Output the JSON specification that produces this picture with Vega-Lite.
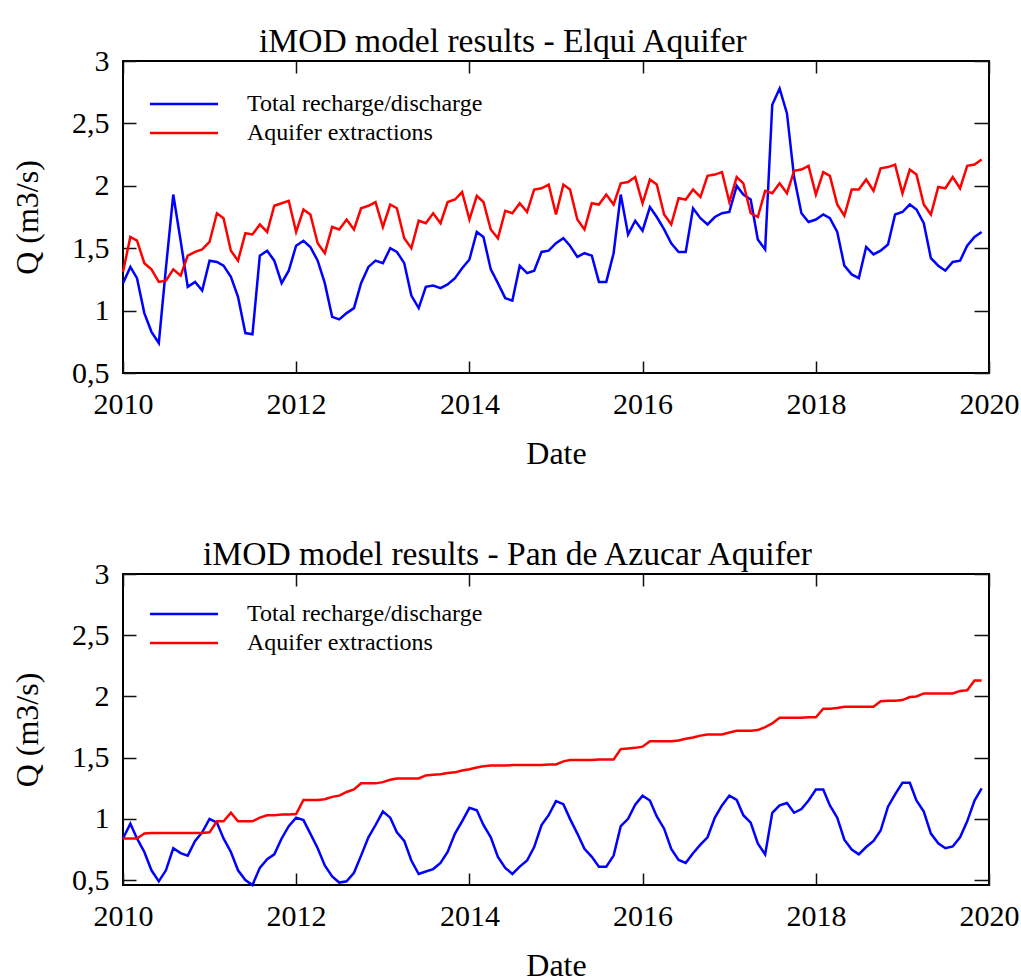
{
  "$schema": "https://vega.github.io/schema/vega-lite/v6.json",
  "background": "white",
  "padding": {"left": 10, "top": 24, "right": 0, "bottom": 0},
  "config": {
    "font": "Liberation Serif",
    "view": {"stroke": "black", "strokeWidth": 2},
    "axis": {"domain": false, "ticks": false, "grid": true, "gridColor": "#111111", "gridOpacity": 1, "gridWidth": 1.5, "labelColor": "black", "titleColor": "black", "labelFont": "Liberation Serif", "titleFont": "Liberation Serif", "titleFontWeight": "normal", "labelFontSize": 30, "titleFontSize": 32, "labelFlush": false, "labelOverlap": false, "labelBound": false},
    "title": {"font": "Liberation Serif", "fontSize": 33.6, "fontWeight": "normal", "color": "black"},
    "legend": {"orient": "none", "title": null, "symbolType": "M-3,0L3,0", "symbolSize": 515, "symbolStrokeWidth": 2.5, "labelFontSize": 24, "labelFont": "Liberation Serif", "labelColor": "black", "labelOffset": 50, "rowPadding": 4, "padding": 0, "labelLimit": 0}
  },
  "datasets": {
    "elqui": [
      {"date":"2010-01-01","recharge":1.22,"extractions":1.31},
      {"date":"2010-02-01","recharge":1.35,"extractions":1.59},
      {"date":"2010-03-01","recharge":1.26,"extractions":1.56},
      {"date":"2010-04-01","recharge":0.98,"extractions":1.38},
      {"date":"2010-05-01","recharge":0.83,"extractions":1.33},
      {"date":"2010-06-01","recharge":0.74,"extractions":1.23},
      {"date":"2010-07-01","recharge":1.34,"extractions":1.24},
      {"date":"2010-08-01","recharge":1.93,"extractions":1.33},
      {"date":"2010-09-01","recharge":1.56,"extractions":1.28},
      {"date":"2010-10-01","recharge":1.19,"extractions":1.44},
      {"date":"2010-11-01","recharge":1.23,"extractions":1.47},
      {"date":"2010-12-01","recharge":1.16,"extractions":1.49},
      {"date":"2011-01-01","recharge":1.40,"extractions":1.55},
      {"date":"2011-02-01","recharge":1.39,"extractions":1.78},
      {"date":"2011-03-01","recharge":1.36,"extractions":1.74},
      {"date":"2011-04-01","recharge":1.27,"extractions":1.48},
      {"date":"2011-05-01","recharge":1.11,"extractions":1.40},
      {"date":"2011-06-01","recharge":0.82,"extractions":1.62},
      {"date":"2011-07-01","recharge":0.81,"extractions":1.61},
      {"date":"2011-08-01","recharge":1.44,"extractions":1.69},
      {"date":"2011-09-01","recharge":1.48,"extractions":1.63},
      {"date":"2011-10-01","recharge":1.40,"extractions":1.84},
      {"date":"2011-11-01","recharge":1.22,"extractions":1.86},
      {"date":"2011-12-01","recharge":1.32,"extractions":1.88},
      {"date":"2012-01-01","recharge":1.52,"extractions":1.63},
      {"date":"2012-02-01","recharge":1.56,"extractions":1.81},
      {"date":"2012-03-01","recharge":1.51,"extractions":1.77},
      {"date":"2012-04-01","recharge":1.40,"extractions":1.54},
      {"date":"2012-05-01","recharge":1.22,"extractions":1.46},
      {"date":"2012-06-01","recharge":0.95,"extractions":1.67},
      {"date":"2012-07-01","recharge":0.93,"extractions":1.65},
      {"date":"2012-08-01","recharge":0.98,"extractions":1.73},
      {"date":"2012-09-01","recharge":1.02,"extractions":1.65},
      {"date":"2012-10-01","recharge":1.22,"extractions":1.82},
      {"date":"2012-11-01","recharge":1.35,"extractions":1.84},
      {"date":"2012-12-01","recharge":1.40,"extractions":1.87},
      {"date":"2013-01-01","recharge":1.38,"extractions":1.67},
      {"date":"2013-02-01","recharge":1.50,"extractions":1.85},
      {"date":"2013-03-01","recharge":1.47,"extractions":1.82},
      {"date":"2013-04-01","recharge":1.38,"extractions":1.58},
      {"date":"2013-05-01","recharge":1.12,"extractions":1.50},
      {"date":"2013-06-01","recharge":1.02,"extractions":1.72},
      {"date":"2013-07-01","recharge":1.19,"extractions":1.70},
      {"date":"2013-08-01","recharge":1.20,"extractions":1.78},
      {"date":"2013-09-01","recharge":1.18,"extractions":1.70},
      {"date":"2013-10-01","recharge":1.21,"extractions":1.87},
      {"date":"2013-11-01","recharge":1.26,"extractions":1.89},
      {"date":"2013-12-01","recharge":1.34,"extractions":1.95},
      {"date":"2014-01-01","recharge":1.41,"extractions":1.73},
      {"date":"2014-02-01","recharge":1.63,"extractions":1.92},
      {"date":"2014-03-01","recharge":1.59,"extractions":1.87},
      {"date":"2014-04-01","recharge":1.33,"extractions":1.65},
      {"date":"2014-05-01","recharge":1.22,"extractions":1.58},
      {"date":"2014-06-01","recharge":1.10,"extractions":1.80},
      {"date":"2014-07-01","recharge":1.08,"extractions":1.78},
      {"date":"2014-08-01","recharge":1.36,"extractions":1.86},
      {"date":"2014-09-01","recharge":1.30,"extractions":1.79},
      {"date":"2014-10-01","recharge":1.32,"extractions":1.97},
      {"date":"2014-11-01","recharge":1.47,"extractions":1.98},
      {"date":"2014-12-01","recharge":1.48,"extractions":2.01},
      {"date":"2015-01-01","recharge":1.54,"extractions":1.77},
      {"date":"2015-02-01","recharge":1.58,"extractions":2.01},
      {"date":"2015-03-01","recharge":1.52,"extractions":1.97},
      {"date":"2015-04-01","recharge":1.43,"extractions":1.73},
      {"date":"2015-05-01","recharge":1.46,"extractions":1.65},
      {"date":"2015-06-01","recharge":1.44,"extractions":1.86},
      {"date":"2015-07-01","recharge":1.23,"extractions":1.85},
      {"date":"2015-08-01","recharge":1.23,"extractions":1.93},
      {"date":"2015-09-01","recharge":1.46,"extractions":1.85},
      {"date":"2015-10-01","recharge":1.93,"extractions":2.02},
      {"date":"2015-11-01","recharge":1.61,"extractions":2.03},
      {"date":"2015-12-01","recharge":1.72,"extractions":2.07},
      {"date":"2016-01-01","recharge":1.64,"extractions":1.86},
      {"date":"2016-02-01","recharge":1.83,"extractions":2.05},
      {"date":"2016-03-01","recharge":1.75,"extractions":2.01},
      {"date":"2016-04-01","recharge":1.65,"extractions":1.77},
      {"date":"2016-05-01","recharge":1.54,"extractions":1.69},
      {"date":"2016-06-01","recharge":1.47,"extractions":1.90},
      {"date":"2016-07-01","recharge":1.47,"extractions":1.89},
      {"date":"2016-08-01","recharge":1.82,"extractions":1.97},
      {"date":"2016-09-01","recharge":1.74,"extractions":1.91},
      {"date":"2016-10-01","recharge":1.69,"extractions":2.08},
      {"date":"2016-11-01","recharge":1.75,"extractions":2.09},
      {"date":"2016-12-01","recharge":1.78,"extractions":2.11},
      {"date":"2017-01-01","recharge":1.79,"extractions":1.87},
      {"date":"2017-02-01","recharge":2.00,"extractions":2.07},
      {"date":"2017-03-01","recharge":1.93,"extractions":2.02},
      {"date":"2017-04-01","recharge":1.89,"extractions":1.78},
      {"date":"2017-05-01","recharge":1.57,"extractions":1.75},
      {"date":"2017-06-01","recharge":1.49,"extractions":1.96},
      {"date":"2017-07-01","recharge":2.65,"extractions":1.94},
      {"date":"2017-08-01","recharge":2.78,"extractions":2.02},
      {"date":"2017-09-01","recharge":2.58,"extractions":1.94},
      {"date":"2017-10-01","recharge":2.07,"extractions":2.12},
      {"date":"2017-11-01","recharge":1.78,"extractions":2.13},
      {"date":"2017-12-01","recharge":1.71,"extractions":2.16},
      {"date":"2018-01-01","recharge":1.73,"extractions":1.93},
      {"date":"2018-02-01","recharge":1.77,"extractions":2.11},
      {"date":"2018-03-01","recharge":1.74,"extractions":2.08},
      {"date":"2018-04-01","recharge":1.63,"extractions":1.85},
      {"date":"2018-05-01","recharge":1.36,"extractions":1.76},
      {"date":"2018-06-01","recharge":1.29,"extractions":1.97},
      {"date":"2018-07-01","recharge":1.26,"extractions":1.97},
      {"date":"2018-08-01","recharge":1.51,"extractions":2.05},
      {"date":"2018-09-01","recharge":1.45,"extractions":1.96},
      {"date":"2018-10-01","recharge":1.48,"extractions":2.14},
      {"date":"2018-11-01","recharge":1.53,"extractions":2.15},
      {"date":"2018-12-01","recharge":1.77,"extractions":2.17},
      {"date":"2019-01-01","recharge":1.79,"extractions":1.94},
      {"date":"2019-02-01","recharge":1.85,"extractions":2.13},
      {"date":"2019-03-01","recharge":1.81,"extractions":2.09},
      {"date":"2019-04-01","recharge":1.70,"extractions":1.85},
      {"date":"2019-05-01","recharge":1.42,"extractions":1.77},
      {"date":"2019-06-01","recharge":1.36,"extractions":1.99},
      {"date":"2019-07-01","recharge":1.32,"extractions":1.98},
      {"date":"2019-08-01","recharge":1.39,"extractions":2.07},
      {"date":"2019-09-01","recharge":1.40,"extractions":1.98},
      {"date":"2019-10-01","recharge":1.52,"extractions":2.16},
      {"date":"2019-11-01","recharge":1.59,"extractions":2.17},
      {"date":"2019-12-01","recharge":1.63,"extractions":2.21}
    ],
    "pan": [
      {"date":"2010-01-01","recharge":0.84,"extractions":0.84},
      {"date":"2010-02-01","recharge":0.96,"extractions":0.84},
      {"date":"2010-03-01","recharge":0.84,"extractions":0.84},
      {"date":"2010-04-01","recharge":0.73,"extractions":0.88},
      {"date":"2010-05-01","recharge":0.58,"extractions":0.885},
      {"date":"2010-06-01","recharge":0.49,"extractions":0.885},
      {"date":"2010-07-01","recharge":0.58,"extractions":0.885},
      {"date":"2010-08-01","recharge":0.76,"extractions":0.885},
      {"date":"2010-09-01","recharge":0.72,"extractions":0.885},
      {"date":"2010-10-01","recharge":0.70,"extractions":0.885},
      {"date":"2010-11-01","recharge":0.82,"extractions":0.885},
      {"date":"2010-12-01","recharge":0.89,"extractions":0.885},
      {"date":"2011-01-01","recharge":1.00,"extractions":0.89},
      {"date":"2011-02-01","recharge":0.97,"extractions":0.98},
      {"date":"2011-03-01","recharge":0.84,"extractions":0.98},
      {"date":"2011-04-01","recharge":0.73,"extractions":1.05},
      {"date":"2011-05-01","recharge":0.58,"extractions":0.98},
      {"date":"2011-06-01","recharge":0.50,"extractions":0.98},
      {"date":"2011-07-01","recharge":0.46,"extractions":0.98},
      {"date":"2011-08-01","recharge":0.60,"extractions":1.01},
      {"date":"2011-09-01","recharge":0.67,"extractions":1.03},
      {"date":"2011-10-01","recharge":0.71,"extractions":1.03},
      {"date":"2011-11-01","recharge":0.84,"extractions":1.035},
      {"date":"2011-12-01","recharge":0.94,"extractions":1.035},
      {"date":"2012-01-01","recharge":1.01,"extractions":1.04},
      {"date":"2012-02-01","recharge":0.99,"extractions":1.155},
      {"date":"2012-03-01","recharge":0.88,"extractions":1.155},
      {"date":"2012-04-01","recharge":0.76,"extractions":1.155},
      {"date":"2012-05-01","recharge":0.62,"extractions":1.16},
      {"date":"2012-06-01","recharge":0.53,"extractions":1.18},
      {"date":"2012-07-01","recharge":0.48,"extractions":1.19},
      {"date":"2012-08-01","recharge":0.49,"extractions":1.22},
      {"date":"2012-09-01","recharge":0.56,"extractions":1.24},
      {"date":"2012-10-01","recharge":0.70,"extractions":1.29},
      {"date":"2012-11-01","recharge":0.85,"extractions":1.29},
      {"date":"2012-12-01","recharge":0.95,"extractions":1.29},
      {"date":"2013-01-01","recharge":1.06,"extractions":1.30},
      {"date":"2013-02-01","recharge":1.01,"extractions":1.32},
      {"date":"2013-03-01","recharge":0.89,"extractions":1.33},
      {"date":"2013-04-01","recharge":0.82,"extractions":1.33},
      {"date":"2013-05-01","recharge":0.66,"extractions":1.33},
      {"date":"2013-06-01","recharge":0.55,"extractions":1.33},
      {"date":"2013-07-01","recharge":0.57,"extractions":1.355},
      {"date":"2013-08-01","recharge":0.59,"extractions":1.36},
      {"date":"2013-09-01","recharge":0.64,"extractions":1.365},
      {"date":"2013-10-01","recharge":0.73,"extractions":1.375},
      {"date":"2013-11-01","recharge":0.88,"extractions":1.38},
      {"date":"2013-12-01","recharge":0.98,"extractions":1.395},
      {"date":"2014-01-01","recharge":1.09,"extractions":1.405},
      {"date":"2014-02-01","recharge":1.07,"extractions":1.42},
      {"date":"2014-03-01","recharge":0.95,"extractions":1.43},
      {"date":"2014-04-01","recharge":0.85,"extractions":1.435},
      {"date":"2014-05-01","recharge":0.69,"extractions":1.435},
      {"date":"2014-06-01","recharge":0.60,"extractions":1.435},
      {"date":"2014-07-01","recharge":0.55,"extractions":1.44},
      {"date":"2014-08-01","recharge":0.61,"extractions":1.44},
      {"date":"2014-09-01","recharge":0.66,"extractions":1.44},
      {"date":"2014-10-01","recharge":0.77,"extractions":1.44},
      {"date":"2014-11-01","recharge":0.95,"extractions":1.44},
      {"date":"2014-12-01","recharge":1.03,"extractions":1.445},
      {"date":"2015-01-01","recharge":1.145,"extractions":1.445},
      {"date":"2015-02-01","recharge":1.12,"extractions":1.47},
      {"date":"2015-03-01","recharge":1.00,"extractions":1.48},
      {"date":"2015-04-01","recharge":0.88,"extractions":1.48},
      {"date":"2015-05-01","recharge":0.755,"extractions":1.48},
      {"date":"2015-06-01","recharge":0.69,"extractions":1.48},
      {"date":"2015-07-01","recharge":0.61,"extractions":1.485},
      {"date":"2015-08-01","recharge":0.61,"extractions":1.485},
      {"date":"2015-09-01","recharge":0.70,"extractions":1.485},
      {"date":"2015-10-01","recharge":0.94,"extractions":1.57},
      {"date":"2015-11-01","recharge":1.00,"extractions":1.575},
      {"date":"2015-12-01","recharge":1.115,"extractions":1.58},
      {"date":"2016-01-01","recharge":1.19,"extractions":1.59},
      {"date":"2016-02-01","recharge":1.15,"extractions":1.635},
      {"date":"2016-03-01","recharge":1.02,"extractions":1.635},
      {"date":"2016-04-01","recharge":0.92,"extractions":1.635},
      {"date":"2016-05-01","recharge":0.755,"extractions":1.635},
      {"date":"2016-06-01","recharge":0.665,"extractions":1.64},
      {"date":"2016-07-01","recharge":0.64,"extractions":1.655},
      {"date":"2016-08-01","recharge":0.72,"extractions":1.665},
      {"date":"2016-09-01","recharge":0.79,"extractions":1.68},
      {"date":"2016-10-01","recharge":0.85,"extractions":1.69},
      {"date":"2016-11-01","recharge":1.01,"extractions":1.69},
      {"date":"2016-12-01","recharge":1.11,"extractions":1.69},
      {"date":"2017-01-01","recharge":1.19,"extractions":1.705},
      {"date":"2017-02-01","recharge":1.155,"extractions":1.72},
      {"date":"2017-03-01","recharge":1.03,"extractions":1.72},
      {"date":"2017-04-01","recharge":0.97,"extractions":1.72},
      {"date":"2017-05-01","recharge":0.80,"extractions":1.725},
      {"date":"2017-06-01","recharge":0.71,"extractions":1.75},
      {"date":"2017-07-01","recharge":1.05,"extractions":1.78},
      {"date":"2017-08-01","recharge":1.11,"extractions":1.825},
      {"date":"2017-09-01","recharge":1.13,"extractions":1.825},
      {"date":"2017-10-01","recharge":1.05,"extractions":1.825},
      {"date":"2017-11-01","recharge":1.08,"extractions":1.825},
      {"date":"2017-12-01","recharge":1.15,"extractions":1.83},
      {"date":"2018-01-01","recharge":1.24,"extractions":1.83},
      {"date":"2018-02-01","recharge":1.24,"extractions":1.90},
      {"date":"2018-03-01","recharge":1.11,"extractions":1.90},
      {"date":"2018-04-01","recharge":1.01,"extractions":1.905},
      {"date":"2018-05-01","recharge":0.83,"extractions":1.915},
      {"date":"2018-06-01","recharge":0.75,"extractions":1.915},
      {"date":"2018-07-01","recharge":0.71,"extractions":1.915},
      {"date":"2018-08-01","recharge":0.77,"extractions":1.915},
      {"date":"2018-09-01","recharge":0.82,"extractions":1.915},
      {"date":"2018-10-01","recharge":0.905,"extractions":1.96},
      {"date":"2018-11-01","recharge":1.10,"extractions":1.965},
      {"date":"2018-12-01","recharge":1.20,"extractions":1.965},
      {"date":"2019-01-01","recharge":1.295,"extractions":1.97},
      {"date":"2019-02-01","recharge":1.295,"extractions":1.995},
      {"date":"2019-03-01","recharge":1.15,"extractions":2.0},
      {"date":"2019-04-01","recharge":1.06,"extractions":2.025},
      {"date":"2019-05-01","recharge":0.88,"extractions":2.025},
      {"date":"2019-06-01","recharge":0.80,"extractions":2.025},
      {"date":"2019-07-01","recharge":0.76,"extractions":2.025},
      {"date":"2019-08-01","recharge":0.775,"extractions":2.025},
      {"date":"2019-09-01","recharge":0.85,"extractions":2.045},
      {"date":"2019-10-01","recharge":0.98,"extractions":2.05},
      {"date":"2019-11-01","recharge":1.15,"extractions":2.13},
      {"date":"2019-12-01","recharge":1.25,"extractions":2.13}
    ]
  },
  "spacing": 201,
  "bounds": "flush",
  "resolve": {"scale": {"color": "independent"}, "legend": {"color": "independent"}},
  "vconcat": [
    {
      "width": 866, "height": 312,
      "title": {"text": "iMOD model results - Elqui Aquifer", "anchor": "start", "frame": "group", "dx": 136, "offset": -40, "baseline": "alphabetic"},
      "data": {"name": "elqui"},
      "transform": [{"fold": ["recharge", "extractions"], "as": ["series", "q"]}],
      "resolve": {"axis": {"x": "independent", "y": "independent"}},
      "layer": [
        {
          "mark": {"type": "line", "strokeWidth": 2.5},
          "encoding": {
            "x": {"field": "date", "type": "temporal", "scale": {"type": "utc", "domain": [{"year": 2010, "utc": true}, {"year": 2020, "utc": true}]},
                  "axis": {"orient": "bottom", "values": [{"year": 2010, "utc": true}, {"year": 2012, "utc": true}, {"year": 2014, "utc": true}, {"year": 2016, "utc": true}, {"year": 2018, "utc": true}, {"year": 2020, "utc": true}], "format": "%Y", "gridDash": [12, 288], "labelPadding": 16, "title": "Date", "titlePadding": 19}},
            "y": {"field": "q", "type": "quantitative", "scale": {"domain": [0.5, 3], "nice": false, "zero": false},
                  "axis": {"orient": "left", "values": [0.5, 1, 1.5, 2, 2.5, 3], "labelExpr": "replace(format(datum.value, '~g'), '.', ',')", "gridDash": [13, 838, 15, 0], "labelPadding": 14, "title": "Q (m3/s)", "titlePadding": 27}},
            "color": {"field": "series", "type": "nominal", "scale": {"domain": ["recharge", "extractions"], "range": ["#0000ff", "#ff0000"]},
                      "legend": {"legendX": 48, "legendY": 30, "labelExpr": "datum.value == 'recharge' ? 'Total recharge/discharge' : 'Aquifer extractions'"}}
          }
        },
        {
          "mark": {"type": "line", "opacity": 0},
          "encoding": {
            "x": {"field": "date", "type": "temporal", "scale": {"type": "utc", "domain": [{"year": 2010, "utc": true}, {"year": 2020, "utc": true}]},
                  "axis": {"orient": "bottom", "values": [{"year": 2010, "month": 7, "utc": true}, {"year": 2011, "utc": true}, {"year": 2011, "month": 7, "utc": true}, {"year": 2012, "month": 7, "utc": true}, {"year": 2013, "utc": true}, {"year": 2013, "month": 7, "utc": true}, {"year": 2014, "month": 7, "utc": true}, {"year": 2015, "utc": true}, {"year": 2015, "month": 7, "utc": true}, {"year": 2016, "month": 7, "utc": true}, {"year": 2017, "utc": true}, {"year": 2017, "month": 7, "utc": true}, {"year": 2018, "month": 7, "utc": true}, {"year": 2019, "utc": true}, {"year": 2019, "month": 7, "utc": true}], "gridDash": [5, 302], "labels": false, "title": null}},
            "y": {"field": "q", "type": "quantitative", "scale": {"domain": [0.5, 3], "nice": false, "zero": false},
                  "axis": {"orient": "left", "values": [0.6, 0.7, 0.8, 0.9, 1.1, 1.2, 1.3, 1.4, 1.6, 1.7, 1.8, 1.9, 2.1, 2.2, 2.3, 2.4, 2.6, 2.7, 2.8, 2.9], "gridDash": [7, 851, 8, 0], "labels": false, "title": null}},
            "detail": {"field": "series", "type": "nominal"}
          }
        }
      ]
    },
    {
      "width": 866, "height": 311,
      "title": {"text": "iMOD model results - Pan de Azucar Aquifer", "anchor": "start", "frame": "group", "dx": 80, "offset": -40, "baseline": "alphabetic"},
      "data": {"name": "pan"},
      "transform": [{"fold": ["recharge", "extractions"], "as": ["series", "q"]}],
      "resolve": {"axis": {"x": "independent", "y": "independent"}},
      "layer": [
        {
          "mark": {"type": "line", "strokeWidth": 2.5},
          "encoding": {
            "x": {"field": "date", "type": "temporal", "scale": {"type": "utc", "domain": [{"year": 2010, "utc": true}, {"year": 2020, "utc": true}]},
                  "axis": {"orient": "bottom", "values": [{"year": 2010, "utc": true}, {"year": 2012, "utc": true}, {"year": 2014, "utc": true}, {"year": 2016, "utc": true}, {"year": 2018, "utc": true}, {"year": 2020, "utc": true}], "format": "%Y", "gridDash": [12, 287], "labelPadding": 16, "title": "Date", "titlePadding": 19}},
            "y": {"field": "q", "type": "quantitative", "scale": {"domain": [0.46, 3], "nice": false, "zero": false},
                  "axis": {"orient": "left", "values": [0.5, 1, 1.5, 2, 2.5, 3], "labelExpr": "replace(format(datum.value, '~g'), '.', ',')", "gridDash": [13, 838, 15, 0], "labelPadding": 14, "title": "Q (m3/s)", "titlePadding": 27}},
            "color": {"field": "series", "type": "nominal", "scale": {"domain": ["recharge", "extractions"], "range": ["#0000ff", "#ff0000"]},
                      "legend": {"legendX": 48, "legendY": 27, "labelExpr": "datum.value == 'recharge' ? 'Total recharge/discharge' : 'Aquifer extractions'"}}
          }
        },
        {
          "mark": {"type": "line", "opacity": 0},
          "encoding": {
            "x": {"field": "date", "type": "temporal", "scale": {"type": "utc", "domain": [{"year": 2010, "utc": true}, {"year": 2020, "utc": true}]},
                  "axis": {"orient": "bottom", "values": [{"year": 2010, "month": 7, "utc": true}, {"year": 2011, "utc": true}, {"year": 2011, "month": 7, "utc": true}, {"year": 2012, "month": 7, "utc": true}, {"year": 2013, "utc": true}, {"year": 2013, "month": 7, "utc": true}, {"year": 2014, "month": 7, "utc": true}, {"year": 2015, "utc": true}, {"year": 2015, "month": 7, "utc": true}, {"year": 2016, "month": 7, "utc": true}, {"year": 2017, "utc": true}, {"year": 2017, "month": 7, "utc": true}, {"year": 2018, "month": 7, "utc": true}, {"year": 2019, "utc": true}, {"year": 2019, "month": 7, "utc": true}], "gridDash": [5, 301], "labels": false, "title": null}},
            "y": {"field": "q", "type": "quantitative", "scale": {"domain": [0.46, 3], "nice": false, "zero": false},
                  "axis": {"orient": "left", "values": [0.6, 0.7, 0.8, 0.9, 1.1, 1.2, 1.3, 1.4, 1.6, 1.7, 1.8, 1.9, 2.1, 2.2, 2.3, 2.4, 2.6, 2.7, 2.8, 2.9], "gridDash": [7, 851, 8, 0], "labels": false, "title": null}},
            "detail": {"field": "series", "type": "nominal"}
          }
        }
      ]
    }
  ]
}
